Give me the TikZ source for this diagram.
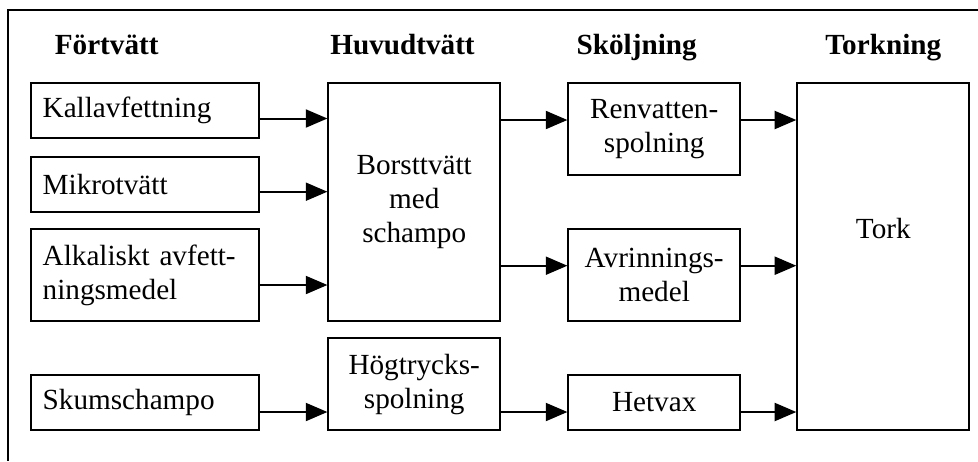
\documentclass[tikz,border=0pt]{standalone}
\usepackage{fontspec}
\setmainfont{Liberation Serif}
\usetikzlibrary{arrows.meta}

\begin{document}
\begin{tikzpicture}[x=0.5pt,y=-0.5pt,
    box/.style={draw,line width=1pt,inner sep=0pt,align=center,
      font=\fontsize{14.6}{17}\selectfont},
    leftbox/.style={box,minimum width=114.3pt,text width=102.3pt,align=left},
    midbox/.style={box,minimum width=85.8pt},
    head/.style={anchor=base,font=\fontsize{14.6}{17}\selectfont\bfseries},
    arr/.style={line width=1pt,-{Triangle[length=10.8pt,width=9pt]}}]
  \useasboundingbox (0,0) rectangle (978,461);
  \draw[line width=1pt] (978,10) -- (8,10) -- (8,461);

  % column heads
  \node[head] (hforv) at (106.7,54) {Förtvätt};
  \node[head] (hhuvud) at (402.5,54) {Huvudtvätt};
  \node[head] (hskolj) at (636.7,54) {Sköljning};
  \node[head] (htork) at (883.3,54) {Torkning};

  % boxes
  \node[leftbox,minimum height=27.5pt] (kall) at (145,110.8) {Kallavfettning};
  \node[leftbox,minimum height=27.5pt] (mikro) at (145,184.2) {Mikrotvätt};
  \node[leftbox,minimum height=45.7pt] (alk) at (145,275) {Alkaliskt avfett-\\ningsmedel};
  \node[leftbox,minimum height=27.5pt] (skum) at (145,402.5) {Skumschampo};
  \node[midbox,minimum height=118.7pt] (borst) at (414.2,202) {Borsttvätt\\med\\schampo};
  \node[midbox,minimum height=45.8pt] (hogt) at (414.2,384.2) {Högtrycks-\\spolning};
  \node[midbox,minimum height=45.8pt] (renv) at (654.2,129.2) {Renvatten-\\spolning};
  \node[midbox,minimum height=45.7pt] (avr) at (654.2,275) {Avrinnings-\\medel};
  \node[midbox,minimum height=27.5pt] (hetv) at (654.2,402.5) {Hetvax};
  \node[midbox,minimum width=86pt,minimum height=173.3pt,
    label={[yshift=14pt,font=\fontsize{14.6}{17}\selectfont]center:Tork}] (tork) at (883.3,256.7) {};

  % arrow levels
  \coordinate (ya) at (0,118.5);
  \coordinate (yb) at (0,120);
  \coordinate (yc) at (0,191.7);
  \coordinate (yd) at (0,265.7);
  \coordinate (ye) at (0,285);
  \coordinate (yf) at (0,412);

  \foreach \a/\b/\l in {kall/borst/ya,mikro/borst/yc,alk/borst/ye,skum/hogt/yf,
      borst/renv/yb,renv/tork/yb,borst/avr/yd,avr/tork/yd,hogt/hetv/yf,hetv/tork/yf}
    \draw[arr] (\a.east |- \l) -- (\b.west |- \l);
\end{tikzpicture}
\end{document}
